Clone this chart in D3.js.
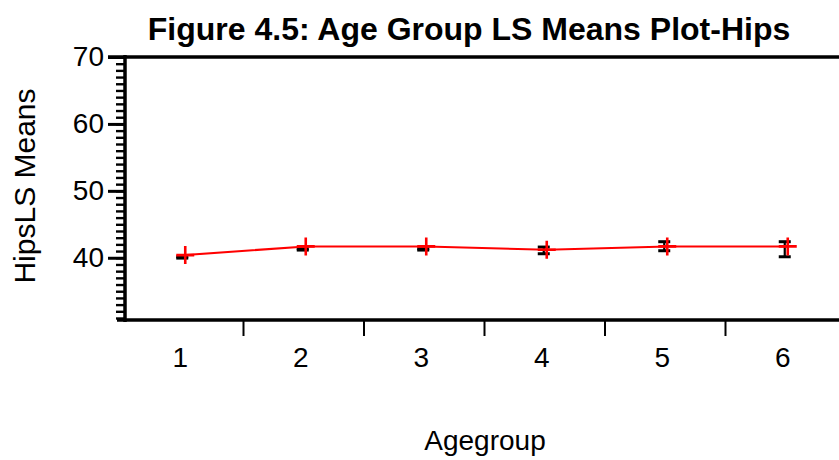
<!DOCTYPE html>
<html>
<head>
<meta charset="utf-8">
<script src="https://cdn.jsdelivr.net/npm/d3@7"></script>
<style>
  html, body { margin: 0; padding: 0; background: #fff; }
  svg { display: block; font-family: "Liberation Sans", Arial, sans-serif; }
</style>
</head>
<body>
<svg id="chart" width="839" height="460"></svg>
<script>
// Age groups and their LS means for hips
const categories = ["1", "2", "3", "4", "5", "6"];
const lsMeans = [40.4, 41.7, 41.7, 41.2, 41.7, 41.7];
// Error bar limits (black)
const barLow  = [39.95, 41.15, 41.15, 40.6, 41.05, 40.15];
const barHigh = [40.15, 41.35, 41.35, 41.6, 42.4, 42.4];
const yMajorTicks = [40, 50, 60, 70];
const yMinorTicks = d3.range(31, 71);

const svg = d3.select("#chart");
const plotLeft = 125, plotRight = 846, plotTop = 57, plotBottom = 320;
const FONT = "'Liberation Sans', Arial, sans-serif";

const x = d3.scaleBand().domain(categories).range([123, plotRight]);
const y = d3.scaleLinear().domain([30.7, 70]).range([plotBottom, plotTop]);
const cx = c => x(c) + x.bandwidth() / 2;

// Title
svg.append("text")
  .attr("x", 469).attr("y", 40)
  .attr("text-anchor", "middle")
  .attr("font-weight", "bold")
  .attr("font-size", 32)
  .text("Figure 4.5: Age Group LS Means Plot-Hips");

// Y axis: minor ticks
svg.append("g")
  .attr("transform", `translate(${plotLeft},0)`)
  .call(d3.axisLeft(y).tickValues(yMinorTicks).tickSize(9).tickFormat(""))
  .call(g => g.select(".domain").remove())
  .call(g => g.selectAll(".tick line").attr("stroke", "#000").attr("stroke-width", 2.4));

// Y axis: major ticks and labels
svg.append("g")
  .attr("transform", `translate(${plotLeft},0)`)
  .call(d3.axisLeft(y).tickValues(yMajorTicks).tickSize(17).tickPadding(4))
  .call(g => g.select(".domain").remove())
  .call(g => g.selectAll(".tick line").attr("stroke", "#000").attr("stroke-width", 3))
  .call(g => g.selectAll(".tick text")
    .attr("font-size", 28).attr("fill", "#000").attr("font-family", FONT));

// Frame lines
svg.append("line").attr("x1", plotLeft).attr("x2", plotLeft).attr("y1", plotTop - 2).attr("y2", plotBottom + 2)
  .attr("stroke", "#000").attr("stroke-width", 3.5);
svg.append("line").attr("x1", 108).attr("x2", 839).attr("y1", plotTop).attr("y2", plotTop)
  .attr("stroke", "#000").attr("stroke-width", 3.5);
svg.append("line").attr("x1", 117).attr("x2", 839).attr("y1", plotBottom).attr("y2", plotBottom)
  .attr("stroke", "#000").attr("stroke-width", 3.5);

// X axis: tick marks at group boundaries
svg.append("g")
  .selectAll("line")
  .data(categories.slice(1))
  .join("line")
  .attr("x1", d => x(d)).attr("x2", d => x(d))
  .attr("y1", plotBottom).attr("y2", plotBottom + 16)
  .attr("stroke", "#000").attr("stroke-width", 2);

// X axis labels
svg.append("g")
  .attr("transform", `translate(-3,${plotBottom})`)
  .call(d3.axisBottom(x).tickSize(0).tickPadding(27))
  .call(g => g.select(".domain").remove())
  .call(g => g.selectAll(".tick text")
    .attr("font-size", 28).attr("fill", "#000").attr("font-family", FONT));

// Axis titles
svg.append("text")
  .attr("x", 485).attr("y", 450)
  .attr("text-anchor", "middle")
  .attr("font-size", 28)
  .text("Agegroup");
svg.append("text")
  .attr("transform", "translate(35,186) rotate(-90)")
  .attr("text-anchor", "middle")
  .attr("font-size", 30)
  .text("HipsLS Means");

// Black error bars
const eb = svg.append("g").attr("stroke", "#000");
categories.forEach((c, i) => {
  const bx = cx(c) - 1;
  eb.append("line").attr("x1", bx).attr("x2", bx)
    .attr("y1", y(barLow[i])).attr("y2", y(barHigh[i])).attr("stroke-width", 2.2);
  [barLow[i], barHigh[i]].forEach(v => {
    eb.append("line").attr("x1", bx - 6).attr("x2", bx + 6)
      .attr("y1", y(v)).attr("y2", y(v)).attr("stroke-width", 3);
  });
});

// Red LS means line and crosses
const line = d3.line().x((d, i) => cx(categories[i]) + 2).y(d => y(d));
svg.append("path")
  .datum(lsMeans)
  .attr("d", line)
  .attr("fill", "none")
  .attr("stroke", "#ff0000")
  .attr("stroke-width", 2);

svg.append("g")
  .selectAll("path")
  .data(lsMeans)
  .join("path")
  .attr("d", (d, i) => {
    const px = cx(categories[i]) + 2, py = y(d), s = 9;
    return `M${px - s},${py}H${px + s}M${px},${py - s}V${py + s}`;
  })
  .attr("stroke", "#ff0000")
  .attr("stroke-width", 2.6)
  .attr("fill", "none");
</script>
</body>
</html>
